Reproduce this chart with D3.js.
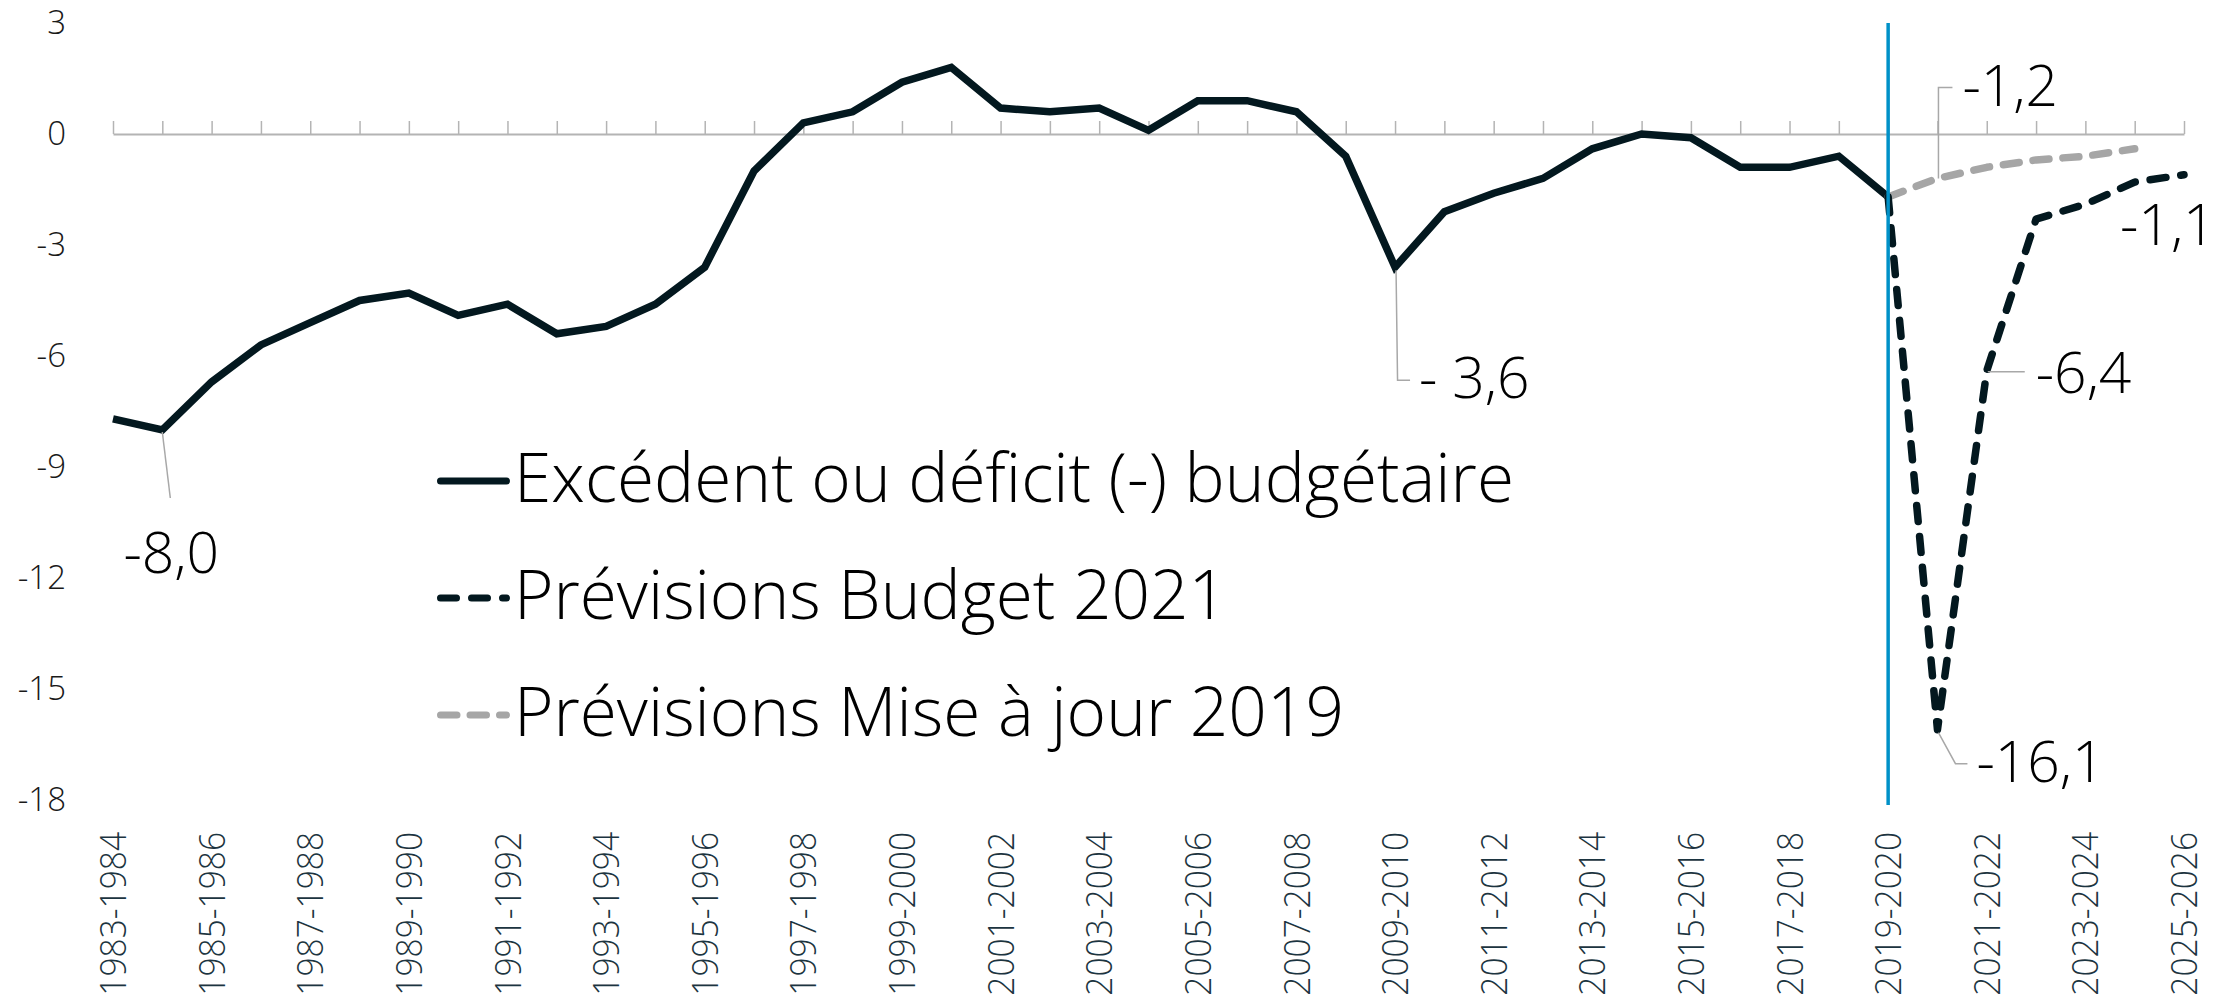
<!DOCTYPE html>
<html>
<head>
<meta charset="utf-8">
<script src="https://cdn.jsdelivr.net/npm/d3@7"></script>
<style>
html,body{margin:0;padding:0;background:#fff;}
svg{display:block;font-family:'Open Sans',sans-serif;font-weight:300;}
</style>
</head>
<body>
<svg id="chart" width="2234" height="1004"></svg>
<script>
/* Solde budgétaire: réel 1983-1984 à 2019-2020, puis deux séries de prévisions */
const categories = ['1983-1984','1984-1985','1985-1986','1986-1987','1987-1988','1988-1989','1989-1990',
  '1990-1991','1991-1992','1992-1993','1993-1994','1994-1995','1995-1996','1996-1997','1997-1998',
  '1998-1999','1999-2000','2000-2001','2001-2002','2002-2003','2003-2004','2004-2005','2005-2006',
  '2006-2007','2007-2008','2008-2009','2009-2010','2010-2011','2011-2012','2012-2013','2013-2014',
  '2014-2015','2015-2016','2016-2017','2017-2018','2018-2019','2019-2020','2020-2021','2021-2022',
  '2022-2023','2023-2024','2024-2025','2025-2026'];
// réel, 1983-1984 .. 2019-2020
const actual = [-7.7,-8.0,-6.7,-5.7,-5.1,-4.5,-4.3,-4.9,-4.6,-5.4,-5.2,-4.6,
  -3.6,-1.0,0.3,0.6,1.4,1.8,0.7,0.6,0.7,0.1,0.9,0.9,
  0.6,-0.6,-3.6,-2.1,-1.6,-1.2,-0.4,0.0,-0.1,-0.9,-0.9,-0.6,-1.7];
// prévisions, à partir de 2019-2020
const budget2021 = [-1.7,-16.1,-6.4,-2.3,-1.9,-1.3,-1.1];
const update2019 = [-1.7,-1.2,-0.9,-0.7,-0.6,-0.4];
const yTicks = [3,0,-3,-6,-9,-12,-15,-18];
const xTickLabels = categories.filter((d,i)=>i%2===0);
const legendLabels = ['Excédent ou déficit (-) budgétaire','Prévisions Budget 2021','Prévisions Mise à jour 2019'];
const dividerCat = '2019-2020';
const calloutText = ['-8,0','- 3,6','-1,2','-6,4','-16,1','-1,1'];
const calloutCat = ['1984-1985','2009-2010','2020-2021','2021-2022','2020-2021','2025-2026'];
const calloutSeries = ['actual','actual','update2019','budget2021','budget2021','budget2021'];

// layout of the callouts (offsets from the data point, px)
const calloutLayout = [
  {leader:[[0,2],[8,68]], tx:9, ty:143, anchor:'middle'},
  {leader:[[1,3],[2.5,113],[15,113]], tx:24, ty:131, anchor:'start'},
  {leader:[[1,0],[1,-91],[15,-91]], tx:25, ty:-72, anchor:'start'},
  {leader:[[1,1],[38,1]], tx:49, ty:22, anchor:'start'},
  {leader:[[1,3],[18,34],[30,34]], tx:39, ty:52, anchor:'start'},
  {leader:null, tx:-64, ty:70, anchor:'start'}
];

const C = {dark:'#03181f', grey:'#a6a6a6', blue:'#0091c8', axis:'#b4b4b4', lead:'#a8a8a8', xlab:'#1c3440'};
const LW = 7.5;

const series = {
  actual: actual.map((v,i)=>({cat:categories[i], v})),
  budget2021: budget2021.map((v,i)=>({cat:categories[36+i], v})),
  update2019: update2019.map((v,i)=>({cat:categories[36+i], v}))
};

const svg = d3.select('#chart');
const x = d3.scalePoint().domain(categories).range([113,2184]);
const y = d3.scaleLinear().domain([-18,3]).range([800,23]);

function squash(sel,k){ sel.each(function(){ const w=this.getComputedTextLength();
  d3.select(this).attr('textLength',w*k).attr('lengthAdjust','spacingAndGlyphs'); }); }

// y axis labels
const gy = svg.append('g').attr('transform','translate(66,0)')
  .call(d3.axisLeft(y).tickValues(yTicks).tickSize(0).tickPadding(0).tickFormat(d=>String(d)));
gy.select('.domain').remove();
gy.selectAll('text').attr('font-size',33).attr('fill','#1a1a1a')
  .style('font-family',"'Open Sans',sans-serif").style('font-weight',300);

// category axis on the zero line, ticks pointing up
const gx = svg.append('g').attr('transform',`translate(0,${y(0)})`)
  .call(d3.axisTop(x).tickSize(13).tickSizeOuter(0).tickFormat(''));
gx.select('.domain').attr('stroke',C.axis).attr('stroke-width',2);
gx.selectAll('.tick line').attr('stroke',C.axis).attr('stroke-width',1.5);

// rotated category labels
const gl = svg.append('g').attr('transform','translate(0,832)')
  .call(d3.axisBottom(x).tickValues(xTickLabels).tickSize(0));
gl.select('.domain').remove();
gl.selectAll('text').attr('x',0).attr('y',0).attr('dy','0.35em')
  .attr('transform','rotate(-90)').attr('text-anchor','end')
  .attr('font-size',36).attr('fill',C.xlab)
  .style('font-family',"'Open Sans',sans-serif").style('font-weight',300)
  .call(squash,0.93);

const line = d3.line().x(d=>x(d.cat)).y(d=>y(d.v));

svg.append('path').datum(series.actual).attr('d',line)
  .attr('fill','none').attr('stroke',C.dark).attr('stroke-width',LW);
svg.append('path').datum(series.update2019).attr('d',line)
  .attr('fill','none').attr('stroke',C.grey).attr('stroke-width',LW)
  .attr('stroke-dasharray','16,14').attr('stroke-linecap','round').attr('stroke-linejoin','round');
svg.append('path').datum(series.budget2021).attr('d',line)
  .attr('fill','none').attr('stroke',C.dark).attr('stroke-width',LW)
  .attr('stroke-dasharray','16,15').attr('stroke-linecap','round').attr('stroke-linejoin','round');

// divider 2019-2020
svg.append('line').attr('x1',x(dividerCat)).attr('x2',x(dividerCat))
  .attr('y1',y(3)).attr('y2',y(-18)+5).attr('stroke',C.blue).attr('stroke-width',3.5);

// callouts
const gc = svg.append('g');
calloutText.forEach((t,i)=>{
  const s = series[calloutSeries[i]].find(d=>d.cat===calloutCat[i]);
  const px = x(s.cat), py = y(s.v), L = calloutLayout[i];
  if(L.leader){
    gc.append('path').attr('d',d3.line()(L.leader.map(p=>[px+p[0],py+p[1]])))
      .attr('fill','none').attr('stroke',C.lead).attr('stroke-width',1.5);
  }
  gc.append('text').attr('x',px+L.tx).attr('y',py+L.ty).attr('text-anchor',L.anchor)
    .attr('font-size',57).attr('fill','#000').text(t);
});

// legend
const legendStyle = [
  {stroke:C.dark, dash:null},
  {stroke:C.dark, dash:'16,15'},
  {stroke:C.grey, dash:'16.5,13'}
];
const lg = svg.append('g');
const rows = lg.selectAll('g').data(legendLabels).join('g')
  .attr('transform',(d,i)=>`translate(0,${481+i*117})`);
rows.append('line').attr('x1',440.5).attr('x2',506.5)
  .attr('stroke',(d,i)=>legendStyle[i].stroke).attr('stroke-width',7).attr('stroke-linecap','round')
  .attr('stroke-dasharray',(d,i)=>legendStyle[i].dash);
const lt = rows.append('text').attr('x',514).attr('y',21).attr('font-size',69).attr('fill','#000').text(d=>d);
const k = 1000/lt.node().getComputedTextLength();
squash(lt,Math.min(1,k));
</script>
</body>
</html>
